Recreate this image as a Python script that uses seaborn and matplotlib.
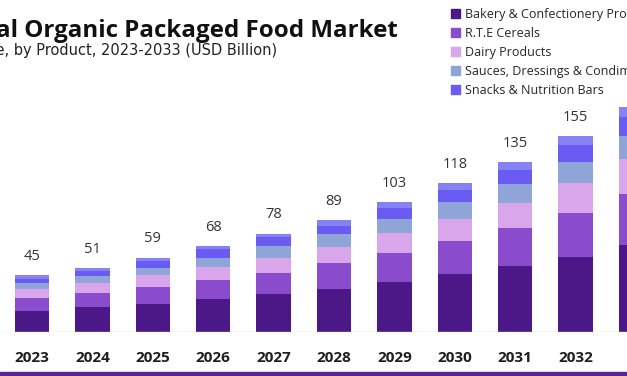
"""
Organic packaged food market by product, 2023-2033 (USD Billion).
Stacked bars drawn as overlapping cumulative seaborn bar layers.
"""

import numpy as np
import pandas as pd
import matplotlib.pyplot as plt
import matplotlib.patches as mpatches
import seaborn as sns

sns.set_theme(style="white")
plt.rcParams['font.family'] = ['Open Sans', 'DejaVu Sans']

years = [str(y) for y in range(2023, 2034)]
totals = [45, 51, 59, 68, 78, 89, 103, 118, 135, 155, 178]

bakery = [17.0, 19.5, 22.5, 26.0, 30.0, 34.0, 40.0, 46.0, 52.6, 59.6, 69.0]
rte_cereals = [10.0, 11.3, 13.0, 15.3, 17.0, 20.5, 22.5, 26.5, 29.7, 35.0, 40.0]
dairy = [7.1, 8.0, 9.3, 10.3, 12.0, 12.8, 15.9, 17.2, 19.7, 23.3, 28.0]
sauces = [4.8, 5.5, 6.3, 7.3, 8.8, 10.4, 11.4, 13.3, 15.0, 16.7, 18.6]
snacks = [3.3, 4.0, 4.8, 6.7, 7.2, 6.6, 8.5, 9.8, 11.3, 13.3, 14.6]
others = [t - (a + b + c + d + e) for t, a, b, c, d, e in
          zip(totals, bakery, rte_cereals, dairy, sauces, snacks)]

segments = ["Bakery & Confectionery Products", "R.T.E Cereals", "Dairy Products",
            "Sauces, Dressings & Condiments", "Snacks & Nutrition Bars", "Others"]
colors = ["#4c1787", "#8a4ccc", "#d9a6ec", "#8fa5d8", "#6a5cf2", "#8682f3"]

df = pd.DataFrame({"year": years, segments[0]: bakery, segments[1]: rte_cereals,
                   segments[2]: dairy, segments[3]: sauces, segments[4]: snacks,
                   segments[5]: others})

W, H = 627, 376
fig = plt.figure(figsize=(W / 100, H / 100), dpi=100)

# axes spans the whole width; the source picture is a crop of a wider chart
base_px = 332
px_per_unit = 1.262
ax = fig.add_axes([0, (H - base_px) / H, 1, base_px / H])

cum = df[segments].cumsum(axis=1)
# draw from the top layer down so each lower layer covers the one above
for seg, col in reversed(list(zip(segments, colors))):
    sns.barplot(x=df["year"], y=cum[seg], color=col, width=0.57,
                saturation=1, linewidth=0, edgecolor="none", ax=ax, zorder=2)

spacing = 60.4
x0 = 32
ax.set_xlim(-x0 / spacing, (W - x0) / spacing)
ax.set_ylim(0, base_px / px_per_unit)
for s in ax.spines.values():
    s.set_visible(False)
ax.set_yticks([])
ax.set_ylabel("")
ax.set_xlabel("")
ax.axhline(0, color="#d9d9d9", lw=1, zorder=3)
ax.tick_params(axis="x", length=0, pad=14)
for lab in ax.get_xticklabels():
    lab.set_fontweight("bold")
    lab.set_fontsize(11)
    lab.set_color("#1e1e1e")

for i, t in enumerate(totals):
    ax.annotate(f"{t}", xy=(i, t), xytext=(0, 8), textcoords="offset points",
                ha="center", va="bottom", fontsize=10.5, color="#333333")

# title block (cropped on the left in the reference)
fig.text(398 / W, 1 - 37 / H, "Global Organic Packaged Food Market",
         ha="right", va="baseline", fontsize=17.4, fontweight="bold", color="#111111")
fig.text(277 / W, 1 - 55 / H,
         "Global Organic Packaged Food Market Size, by Product, 2023-2033 (USD Billion)",
         ha="right", va="baseline", fontsize=10.5, color="#222222",
         family=["DejaVu Sans"])

handles = [mpatches.Patch(color=c, label=s) for s, c in zip(segments[:5], colors[:5])]
fig.legend(handles=handles, loc="upper left", bbox_to_anchor=(446 / W, 1 - 3 / H),
           frameon=False, fontsize=9, handlelength=0.75, handleheight=0.75,
           handletextpad=0.35, labelspacing=0.48, borderaxespad=0)

# purple strip along the bottom edge
fig.patches.append(mpatches.Rectangle((0, 0), 1, 4 / H, transform=fig.transFigure,
                                      color="#5b2393", zorder=5))

fig.savefig("out.png", dpi=100)
